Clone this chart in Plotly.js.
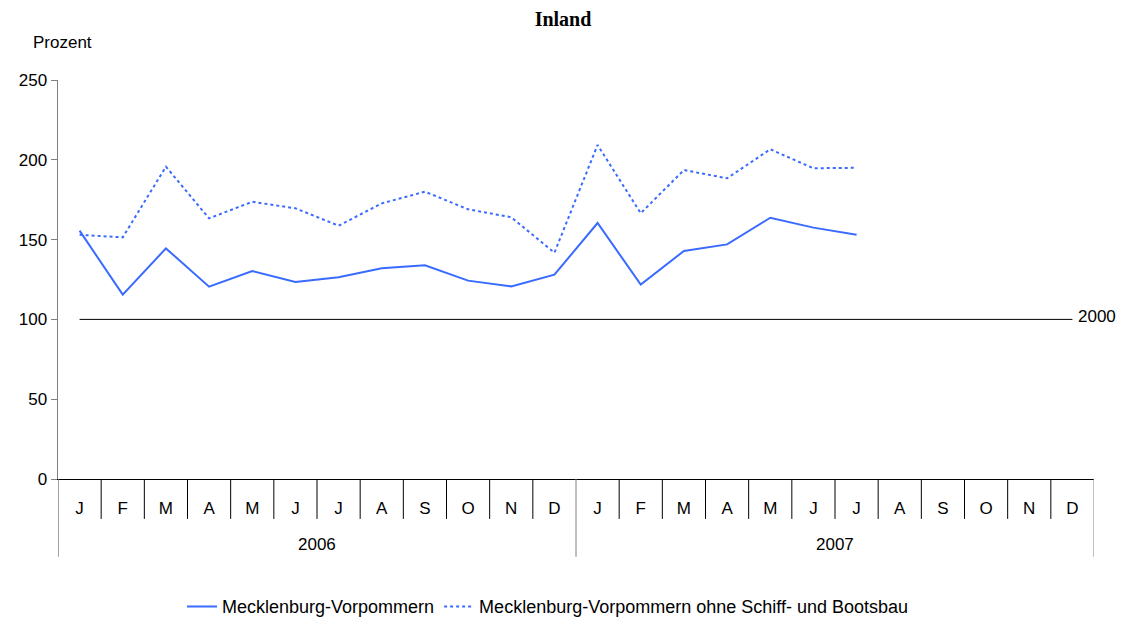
<!DOCTYPE html>
<html>
<head>
<meta charset="utf-8">
<script src="https://cdn.plot.ly/plotly-3.0.1.min.js"></script>
<style>
html,body{margin:0;padding:0;background:#fff;}
#chart{width:1126px;height:624px;}
</style>
</head>
<body>
<div id="chart"></div>
<script>
const months = ['J','F','M','A','M','J','J','A','S','O','N','D','J','F','M','A','M','J','J','A','S','O','N','D'];
const years = ['2006','2007'];
const mvValues = [155.6,115.5,144.5,120.5,130.3,123.4,126.4,132,133.9,124.3,120.7,128,160.4,121.8,142.9,147,163.7,157.5,153.1];
const mvOhneValues = [153,151.4,195.7,163.3,173.7,169.6,158.7,172.7,180,169,164,141.8,209.3,166.5,193.6,188.4,206.6,194.7,195];
const baseLevel = 100;
const baseLabel = '2000';
const seriesNames = ['Mecklenburg-Vorpommern','Mecklenburg-Vorpommern ohne Schiff- und Bootsbau'];

const idx = months.map((m,i)=>i);
const blue = '#3A6BFF';
const font = 'Liberation Sans, Arial, sans-serif';

const traces = [
  {x: mvValues.map((v,i)=>i), y: mvValues, name: seriesNames[0], type:'scatter', mode:'lines',
   line:{color:blue, width:2}},
  {x: mvOhneValues.map((v,i)=>i), y: mvOhneValues, name: seriesNames[1], type:'scatter', mode:'lines',
   line:{color:blue, width:2, dash:'dot'}}
];

const shapes = [];
for (let i=1;i<months.length;i++){
  const isYear = (i % 12 === 0);
  shapes.push({type:'line', xref:'x', yref:'paper', x0:i-0.5, x1:i-0.5, y0:0, y1: isYear ? -0.195 : -0.1,
    line:{color: isYear ? '#808080' : '#000', width:1}});
}
shapes.push({type:'line', xref:'x', yref:'paper', x0:-0.5, x1:-0.5, y0:0, y1:-0.195, line:{color:'#808080', width:1.5}});
shapes.push({type:'line', xref:'x', yref:'paper', x0:months.length-0.5, x1:months.length-0.5, y0:0, y1:-0.195, line:{color:'#808080', width:1}});
shapes.push({type:'line', xref:'x', yref:'y', x0:0, x1:months.length-1, y0:baseLevel, y1:baseLevel, line:{color:'#000', width:1}});

const annotations = [
  {text:'Prozent', xref:'paper', yref:'paper', x:0.004, y:1.093, xanchor:'center', yanchor:'middle', showarrow:false,
   font:{family:font, size:17, color:'#000'}},
  {text: baseLabel, xref:'x', yref:'y', x:months.length-1, y:baseLevel, xanchor:'left', yanchor:'middle', xshift:4, yshift:3, showarrow:false,
   font:{family:font, size:17, color:'#000'}}
];
years.forEach((yr,k)=>{
  annotations.push({text: yr, xref:'x', yref:'paper', x: k*12+5.5, y:-0.165, xanchor:'center', yanchor:'middle', showarrow:false,
    font:{family:font, size:17, color:'#000'}});
});

const layout = {
  width:1126, height:624,
  margin:{l:58, r:32, t:80, b:145, autoexpand:false},
  paper_bgcolor:'#fff', plot_bgcolor:'#fff',
  title:{text:'<b>Inland</b>', x:0.5, xanchor:'center', y:0.97, yanchor:'middle',
    font:{family:'Liberation Serif, Times New Roman, serif', size:20, color:'#000'}},
  showlegend:true,
  legend:{orientation:'h', x:0.473, xanchor:'center', y:-0.32, yanchor:'middle',
    font:{family:font, size:18, color:'#000'}, itemwidth:30, traceorder:'normal'},
  xaxis:{range:[-0.5, months.length-0.5], tickvals: idx, ticktext: months, ticks:'',
    showgrid:false, zeroline:false, showline:true, linecolor:'#000', linewidth:1, automargin:false,
    tickfont:{family:font, size:17, color:'#000'}, ticklabelstandoff:14, fixedrange:true},
  yaxis:{range:[0,250], tickvals:[0,50,100,150,200,250], ticks:'outside', ticklen:6, tickcolor:'#808080',
    showgrid:false, zeroline:false, showline:true, linecolor:'#808080', linewidth:1.5, automargin:false,
    tickfont:{family:font, size:17, color:'#000'}, fixedrange:true},
  shapes: shapes,
  annotations: annotations
};

Plotly.newPlot('chart', traces, layout, {displayModeBar:false, staticPlot:true});
</script>
</body>
</html>
